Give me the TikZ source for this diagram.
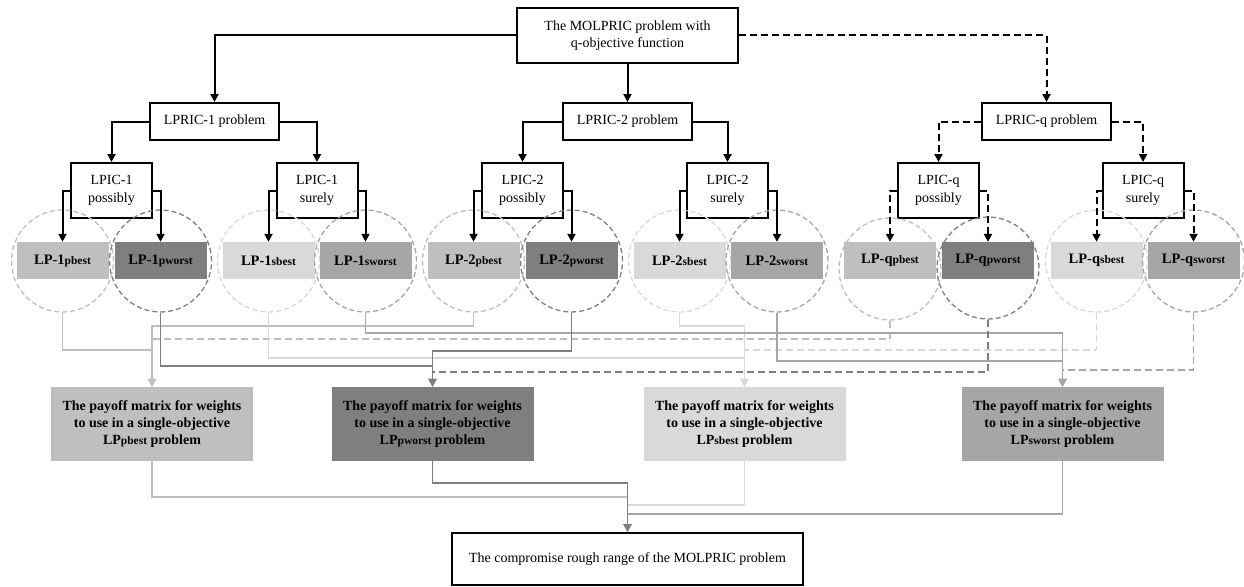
\documentclass[tikz,border=0pt]{standalone}
\usepackage{fontspec}
\setmainfont{Liberation Serif}
\usetikzlibrary{arrows.meta}
\definecolor{pbestgray}{HTML}{BFBFBF}
\definecolor{pworstgray}{HTML}{7F7F7F}
\definecolor{sbestgray}{HTML}{D9D9D9}
\definecolor{sworstgray}{HTML}{A6A6A6}
\newcommand{\lpsub}[1]{{\fontsize{11.5}{12}\selectfont #1}}
\newcommand{\lpcell}[6]{ \node[ring, draw=#4] (c#1) at ( #2 , #3 ) {};
  \node[lpbox, fill=#4] (#1) at ( #2 , 260.5 ) {\textbf{LP-#5\lpsub{#6}}};}
\tikzset{
  plain/.style={draw, line width=2pt, align=center, inner sep=0pt, font=\fontsize{14}{17.5}\selectfont},
  lpbox/.style={minimum width=92pt, minimum height=37pt, inner sep=0pt, font=\fontsize{14.5}{16}\selectfont},
  ring/.style={circle, dash pattern=on 5pt off 3pt, line width=1.3pt, minimum size=102pt, inner sep=0pt},
  payoff/.style={minimum width=202pt, minimum height=74pt, inner sep=0pt, align=center, font=\bfseries\fontsize{14}{17}\selectfont},
  arr/.style={-{Triangle[length=8pt,width=8pt]}},
  blk/.style={arr, line width=2pt},
  gry/.style={arr, line width=1.8pt},
  dsh/.style={dash pattern=on 7pt off 4pt},
}

\begin{document}
\begin{tikzpicture}[x=1pt, y=-1pt]
        \useasboundingbox (0,0) rectangle (1244,586);

        % top
        \node[plain, minimum width=221pt, minimum height=55pt] (top) at (627.5,35.5) {The MOLPRIC problem with\\q-objective function};

        % row 1
        \node[plain, minimum width=129pt, minimum height=37pt] (lpric1) at (214.5,121.5) {LPRIC-1 problem};
        \node[plain, minimum width=129pt, minimum height=37pt] (lpric2) at (627.5,121.5) {LPRIC-2 problem};
        \node[plain, minimum width=129pt, minimum height=37pt] (lpricq) at (1046.5,121.5) {LPRIC-q problem};

        % row 2
        \node[plain, minimum width=81pt, minimum height=55pt] (lpic1p) at (111.5,190.5) {LPIC-1\\possibly};
        \node[plain, minimum width=81pt, minimum height=55pt] (lpic1s) at (317,190.5) {LPIC-1\\surely};
        \node[plain, minimum width=81pt, minimum height=55pt] (lpic2p) at (522.5,190.5) {LPIC-2\\possibly};
        \node[plain, minimum width=81pt, minimum height=55pt] (lpic2s) at (727.5,190.5) {LPIC-2\\surely};
        \node[plain, minimum width=81pt, minimum height=55pt] (lpicqp) at (938.5,190.5) {LPIC-q\\possibly};
        \node[plain, minimum width=81pt, minimum height=55pt] (lpicqs) at (1143,190.5) {LPIC-q\\surely};

        % row 3
        \lpcell{lp1pb}{62.5}{261}{pbestgray}{1}{pbest}
        \lpcell{lp1pw}{160.5}{261}{pworstgray}{1}{pworst}
        \lpcell{lp1sb}{268.5}{261}{sbestgray}{1}{sbest}
        \lpcell{lp1sw}{365.5}{261}{sworstgray}{1}{sworst}
        \lpcell{lp2pb}{473.5}{261}{pbestgray}{2}{pbest}
        \lpcell{lp2pw}{571.5}{261}{pworstgray}{2}{pworst}
        \lpcell{lp2sb}{679.5}{261}{sbestgray}{2}{sbest}
        \lpcell{lp2sw}{777}{261}{sworstgray}{2}{sworst}
        \lpcell{lpqpb}{890}{269}{pbestgray}{q}{pbest}
        \lpcell{lpqpw}{988}{268}{pworstgray}{q}{pworst}
        \lpcell{lpqsb}{1096.5}{261}{sbestgray}{q}{sbest}
        \lpcell{lpqsw}{1193.5}{261}{sworstgray}{q}{sworst}

        % payoff matrices
        \node[payoff, fill=pbestgray] (box1) at (152,424) {The payoff matrix for weights\\to use in a single-objective\\LP\lpsub{pbest} problem};
        \node[payoff, fill=pworstgray] (box2) at (432.5,424) {The payoff matrix for weights\\to use in a single-objective\\LP\lpsub{pworst} problem};
        \node[payoff, fill=sbestgray] (box3) at (744.5,424) {The payoff matrix for weights\\to use in a single-objective\\LP\lpsub{sbest} problem};
        \node[payoff, fill=sworstgray] (box4) at (1062.5,424) {The payoff matrix for weights\\to use in a single-objective\\LP\lpsub{sworst} problem};

        % bottom
        \node[plain, minimum width=351pt, minimum height=52pt] (final) at (627.5,559) {The compromise rough range of the MOLPRIC problem};

        % black arrows
        \draw[blk] (top.west) -| (lpric1.north);
        \draw[blk] (top.south) -- (lpric2.north);
        \draw[blk, dsh] (top.east) -| (lpricq.north);

        \draw[blk] (lpric1.west) -| (lpic1p.north);
        \draw[blk] (lpric1.east) -| (lpic1s.north);
        \draw[blk] (lpric2.west) -| (lpic2p.north);
        \draw[blk] (lpric2.east) -| (lpic2s.north);
        \draw[blk, dsh] (lpricq.west) -| (lpicqp.north);
        \draw[blk, dsh] (lpricq.east) -| (lpicqs.north);

        \draw[blk] (lpic1p.west) -| (lp1pb.north);
        \draw[blk] (lpic1p.east) -| (lp1pw.north);
        \draw[blk] (lpic1s.west) -| (lp1sb.north);
        \draw[blk] (lpic1s.east) -| (lp1sw.north);
        \draw[blk] (lpic2p.west) -| (lp2pb.north);
        \draw[blk] (lpic2p.east) -| (lp2pw.north);
        \draw[blk] (lpic2s.west) -| (lp2sb.north);
        \draw[blk] (lpic2s.east) -| (lp2sw.north);
        \draw[blk, dsh] (lpicqp.west) -| (lpqpb.north);
        \draw[blk, dsh] (lpicqp.east) -| (lpqpw.north);
        \draw[blk, dsh] (lpicqs.west) -| (lpqsb.north);
        \draw[blk, dsh] (lpicqs.east) -| (lpqsw.north);

        % gray arrows to the payoff matrices
        \draw[gry, pbestgray] (clp1pb.south) -- ++(0,37) -| (box1.north);
        \draw[gry, pbestgray] (clp2pb.south) -- ++(0,13) -| (box1.north);
        \draw[gry, pbestgray, dsh] (clpqpb.south) -- ++(0,18) -| (box1.north);

        \draw[gry, sbestgray] (clp1sb.south) -- ++(0,45) -| (box3.north);
        \draw[gry, sbestgray] (clp2sb.south) -- ++(0,13) -| (box3.north);
        \draw[gry, sbestgray, dsh] (clpqsb.south) -- ++(0,37) -| (box3.north);

        \draw[gry, sworstgray] (clp1sw.south) -- ++(0,20) -| (box4.north);
        \draw[gry, sworstgray] (clp2sw.south) -- ++(0,48) -| (box4.north);
        \draw[gry, sworstgray, dsh] (clpqsw.south) -- ++(0,57) -| (box4.north);

        \draw[gry, pworstgray] (clp1pw.south) -- ++(0,53) -| (box2.north);
        \draw[gry, pworstgray] (clp2pw.south) -- ++(0,38) -| (box2.north);
        \draw[gry, pworstgray, dsh] (clpqpw.south) -- ++(0,52) -| (box2.north);

        % to the bottom box
        \draw[gry, pbestgray] (box1.south) -- ++(0,36) -| (final.north);
        \draw[gry, sbestgray] (box3.south) -- ++(0,44) -| (final.north);
        \draw[gry, sworstgray] (box4.south) -- ++(0,53) -| (final.north);
        \draw[gry, pworstgray] (box2.south) -- ++(0,22) -| (final.north);

\end{tikzpicture}
\end{document}
